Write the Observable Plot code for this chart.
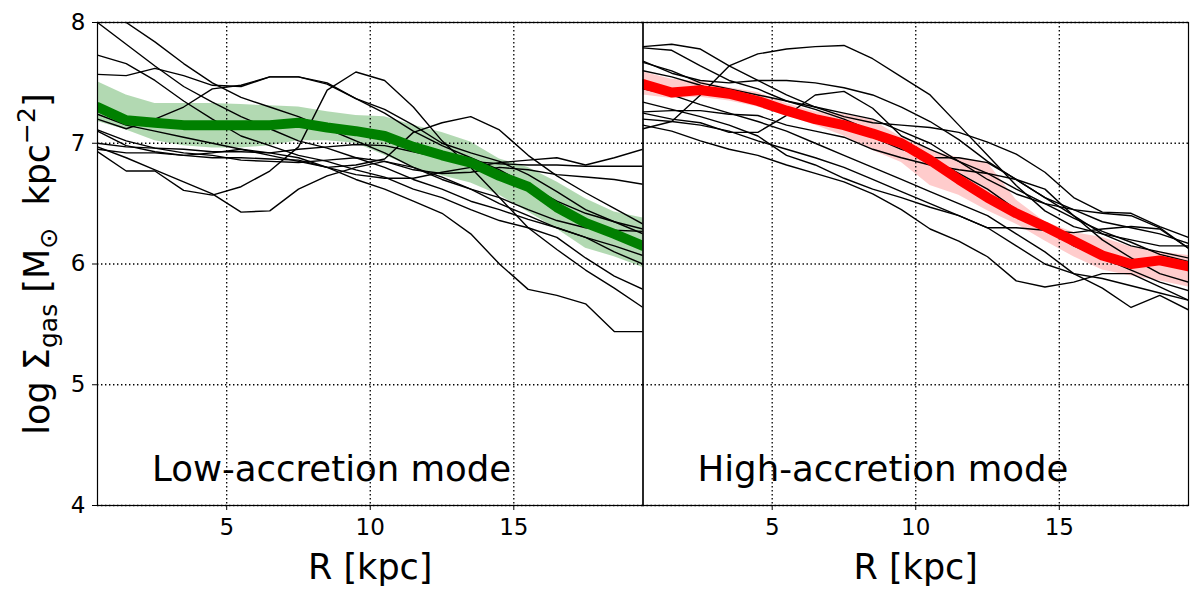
<!DOCTYPE html>
<html><head><meta charset="utf-8">
<script src="https://cdn.jsdelivr.net/npm/d3@7"></script>
<script src="https://cdn.jsdelivr.net/npm/@observablehq/plot@0.6"></script>
<style>body{margin:0;background:#fff;}</style>
</head><body><div id="chart"></div>
<script>
// radial bins (kpc)
const R = [0.5,1.5,2.5,3.5,4.5,5.5,6.5,7.5,8.5,9.5,10.5,11.5,12.5,13.5,14.5,15.5,16.5,17.5,18.5,19.5];
const xTicks = [5, 10, 15];
const yTicks = [4, 5, 6, 7, 8];
const panels = ["low", "high"];
const modeLabels = ["Low-accretion mode", "High-accretion mode"];

// individual galaxy profiles, low-accretion mode
const lowProfiles = [
  [8.00,7.82,7.64,7.47,7.34,7.22,7.12,7.02,6.96,6.88,6.80,6.70,6.62,6.52,6.45,6.37,6.30,6.22,6.10,6.00],
  [8.22,8.00,7.84,7.66,7.50,7.38,7.30,7.22,7.12,7.02,6.92,6.80,6.70,6.62,6.55,6.45,6.36,6.30,6.28,6.27],
  [7.73,7.66,7.52,7.35,7.20,7.06,6.98,6.90,6.85,6.78,6.72,6.62,6.55,6.45,6.36,6.30,6.22,6.05,5.90,5.79],
  [7.57,7.56,7.62,7.56,7.48,7.47,7.55,7.55,7.50,7.37,7.28,7.15,7.00,6.92,6.85,6.74,6.60,6.45,6.35,6.25],
  [6.93,6.77,6.77,6.61,6.57,6.64,6.77,6.97,7.44,7.59,7.52,7.30,7.02,6.80,6.55,6.30,6.12,5.95,5.80,5.64],
  [6.97,6.88,6.78,6.68,6.58,6.43,6.44,6.62,6.73,6.80,6.85,6.80,6.72,6.62,6.50,6.40,6.30,6.22,6.15,6.07],
  [7.20,7.12,7.20,7.30,7.45,7.48,7.55,7.55,7.49,7.37,7.25,7.10,6.98,6.88,6.78,6.65,6.52,6.42,6.35,6.29],
  [7.10,6.98,6.93,6.90,6.92,6.95,6.90,6.85,6.80,6.82,6.87,7.09,7.17,7.22,7.11,6.90,6.73,6.59,6.46,6.33],
  [6.95,6.92,6.92,6.90,6.88,6.88,6.87,6.86,6.80,6.74,6.71,6.71,6.76,6.80,6.84,6.86,6.88,6.82,6.88,6.95],
  [7.00,6.97,6.96,6.95,6.93,6.93,6.92,6.95,6.97,6.99,6.98,6.93,6.88,6.85,6.83,6.82,6.82,6.81,6.81,6.81],
  [7.11,7.02,6.96,6.92,6.90,6.86,6.85,6.84,6.86,6.88,6.85,6.78,6.75,6.76,6.80,6.78,6.74,6.72,6.70,6.66],
  [7.24,7.15,7.10,7.05,7.00,6.95,6.92,6.88,6.80,6.70,6.62,6.52,6.42,6.25,6.00,5.79,5.74,5.67,5.44,5.44]
];
const lowMedian = [7.30,7.19,7.17,7.15,7.15,7.15,7.15,7.17,7.13,7.10,7.06,6.97,6.90,6.84,6.73,6.64,6.47,6.34,6.25,6.15];
const lowUpper  = [7.51,7.40,7.33,7.33,7.33,7.32,7.31,7.30,7.26,7.23,7.22,7.15,7.09,7.01,6.87,6.80,6.68,6.54,6.43,6.38];
const lowLower  = [7.18,7.11,7.02,6.98,6.96,6.96,6.98,7.02,7.02,7.00,6.90,6.80,6.73,6.67,6.57,6.43,6.29,6.13,6.06,5.97];

// individual galaxy profiles, high-accretion mode
const highProfiles = [
  [7.80,7.82,7.78,7.64,7.52,7.40,7.30,7.22,7.17,7.15,7.13,7.09,7.01,6.91,6.76,6.55,6.43,6.42,6.31,6.22],
  [7.12,7.18,7.40,7.64,7.74,7.78,7.80,7.81,7.70,7.55,7.40,7.15,6.90,6.65,6.44,6.31,6.25,6.15,6.10,6.05],
  [7.79,7.77,7.64,7.52,7.45,7.35,7.28,7.20,7.10,7.00,6.88,6.75,6.62,6.45,6.30,6.15,6.05,5.95,5.85,5.78],
  [7.68,7.58,7.52,7.50,7.52,7.52,7.50,7.46,7.40,7.30,7.18,7.03,6.85,6.70,6.55,6.45,6.35,6.30,6.25,6.17],
  [7.67,7.60,7.50,7.45,7.40,7.35,7.30,7.25,7.20,7.10,7.00,6.85,6.70,6.58,6.50,6.45,6.42,6.40,6.30,6.13],
  [7.25,7.20,7.17,7.09,7.09,7.23,7.40,7.43,7.29,7.06,6.95,6.85,6.75,6.62,6.50,6.38,6.27,6.18,6.08,6.02],
  [7.34,7.28,7.22,7.15,7.06,6.90,6.82,6.71,6.62,6.55,6.47,6.40,6.30,6.15,6.00,5.92,5.88,5.82,5.76,5.70],
  [7.26,7.27,7.27,7.24,7.23,7.15,7.10,7.05,6.95,6.88,6.82,6.78,6.75,6.70,6.62,6.40,6.20,6.05,5.92,5.85],
  [7.20,7.18,7.15,7.10,7.02,6.95,6.88,6.80,6.70,6.60,6.50,6.40,6.30,6.30,6.28,6.26,6.29,6.31,6.29,6.13],
  [7.15,7.10,7.02,6.95,6.90,6.82,6.75,6.68,6.58,6.45,6.29,6.19,6.06,5.86,5.81,5.85,5.92,5.92,5.81,5.70],
  [7.45,7.40,7.32,7.25,7.18,7.10,7.00,6.90,6.80,6.70,6.60,6.50,6.40,6.25,6.10,5.92,5.80,5.64,5.74,5.62],
  [7.60,7.55,7.48,7.40,7.32,7.25,7.20,7.12,7.05,6.95,6.88,6.88,6.84,6.70,6.55,6.40,6.25,6.20,6.15,6.15]
];
const highMedian = [7.49,7.42,7.44,7.41,7.35,7.27,7.20,7.15,7.08,7.00,6.86,6.70,6.55,6.42,6.31,6.19,6.07,6.00,6.03,5.98];
const highUpper  = [7.59,7.53,7.51,7.46,7.42,7.33,7.26,7.24,7.19,7.05,6.94,6.88,6.84,6.53,6.35,6.26,6.22,6.14,6.10,6.07];
const highLower  = [7.40,7.37,7.38,7.35,7.30,7.23,7.15,7.06,6.94,6.84,6.65,6.57,6.44,6.33,6.19,6.06,5.95,5.90,5.86,5.81];

// build tables
const profileRows = [];
[[lowProfiles, "low"], [highProfiles, "high"]].forEach(([set, panel]) => {
  set.forEach((p, i) => p.forEach((v, j) => profileRows.push({panel, id: panel + i, R: R[j], v})));
});
const bandRows = (panel, med, up, lo) => R.map((r, j) => ({panel, R: r, med: med[j], up: up[j], lo: lo[j]}));
const lowBand = bandRows("low", lowMedian, lowUpper, lowLower);
const highBand = bandRows("high", highMedian, highUpper, highLower);
const modes = panels.map((p, i) => ({panel: p, label: modeLabels[i]}));

const grid = {stroke: "black", strokeWidth: 1.3, strokeDasharray: "1.4,2.6"};

const chart = Plot.plot({
  width: 1204, height: 598,
  marginLeft: 97, marginRight: 16, marginTop: 22, marginBottom: 93,
  style: {fontFamily: "DejaVu Sans", fontSize: "23px", color: "black", background: "white"},
  fx: {domain: panels, axis: null, padding: 0, round: false},
  x: {domain: [0.5, 19.5]},
  y: {domain: [4, 8]},
  marks: [
    Plot.areaY(lowBand, {x: "R", y1: "lo", y2: "up", fx: "panel", fill: "green", fillOpacity: 0.3}),
    Plot.areaY(highBand, {x: "R", y1: "lo", y2: "up", fx: "panel", fill: "red", fillOpacity: 0.2}),
    Plot.ruleX(xTicks, grid),
    Plot.ruleY(yTicks, grid),
    Plot.line(profileRows, {x: "R", y: "v", z: "id", fx: "panel", stroke: "black", strokeWidth: 1.4, clip: true}),
    Plot.line(lowBand, {x: "R", y: "med", fx: "panel", stroke: "green", strokeWidth: 10, clip: true}),
    Plot.line(highBand, {x: "R", y: "med", fx: "panel", stroke: "red", strokeWidth: 10, clip: true}),
    Plot.frame({stroke: "black", strokeWidth: 1.2}),
    Plot.axisY({ticks: yTicks, tickFormat: "d", tickSize: 5, tickPadding: 7, label: null, fontSize: 23}),
    Plot.axisX({ticks: xTicks, tickFormat: "d", tickSize: 5, tickPadding: 8, label: null, fontSize: 23}),
    Plot.text(modes, {fx: "panel", x: 2.4, y: 4.2, text: "label", textAnchor: "start", lineAnchor: "bottom", fontSize: 35.5}),
    Plot.text(["R [kpc]"], {frameAnchor: "bottom", dy: 73, lineAnchor: "bottom", fontSize: 35})
  ]
});
document.getElementById("chart").appendChild(chart);

// y-axis title with sub/superscripts
const svg = d3.select(chart.tagName.toLowerCase() === "svg" ? chart : chart.querySelector("svg"));
const t = svg.append("text")
  .attr("transform", "translate(49,264) rotate(-90)")
  .attr("text-anchor", "middle")
  .attr("font-family", "DejaVu Sans")
  .attr("font-size", 35)
  .attr("fill", "black");
t.append("tspan").text("log Σ");
t.append("tspan").attr("font-size", 25).attr("dy", 8).text("gas");
t.append("tspan").attr("dy", -8).text(" [M");
t.append("tspan").attr("font-size", 25).attr("dy", 8).text("⊙");
t.append("tspan").attr("dy", -8).text("  kpc");
t.append("tspan").attr("font-size", 25).attr("dy", -14).text("−2");
t.append("tspan").attr("dy", 14).text("]");
</script>
</body></html>
